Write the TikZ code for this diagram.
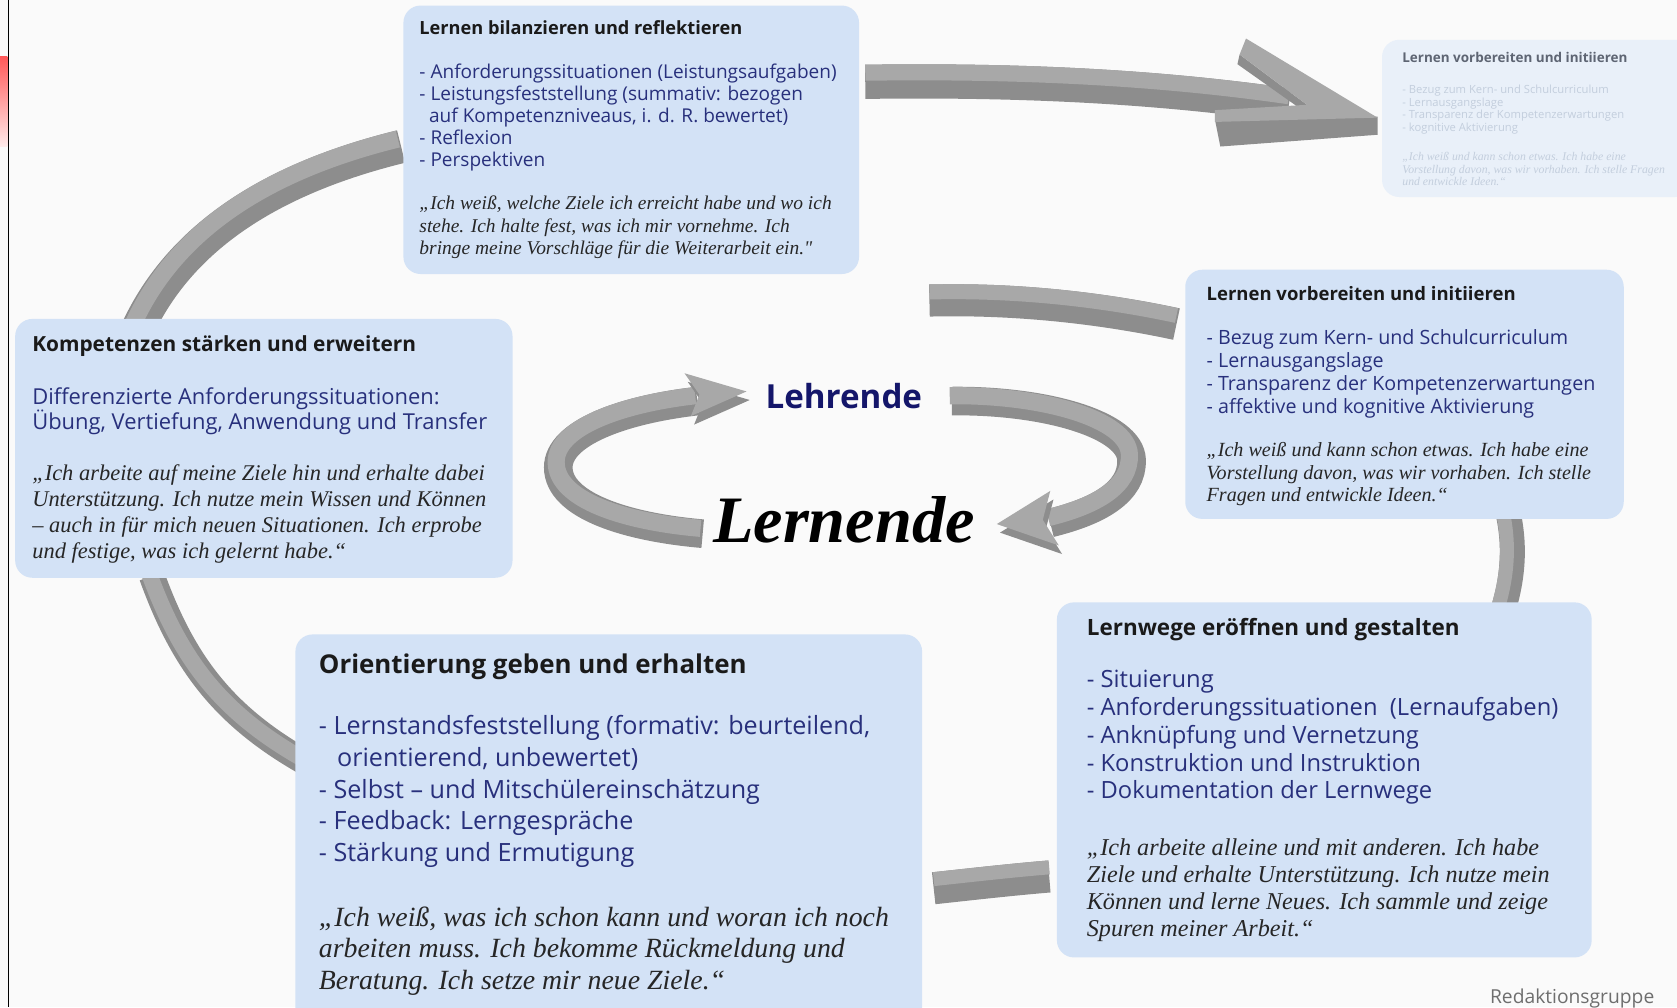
\documentclass[tikz,border=0pt]{standalone}
\usepackage{fontspec}
\setmainfont{Open Sans}
\newfontfamily\qfont{Liberation Serif}
\definecolor{bg}{HTML}{FAFAFA}
\definecolor{boxfill}{HTML}{D3E2F6}
\definecolor{fadefill}{HTML}{E9F0F9}
\definecolor{navy}{HTML}{28307C}
\definecolor{lehr}{HTML}{14166A}
\definecolor{qcol}{HTML}{262626}
\definecolor{ttl}{HTML}{1A1A1A}
\definecolor{riblight}{HTML}{A8A8A8}
\definecolor{ribdark}{HTML}{8D8D8D}
\definecolor{fadetitle}{HTML}{5E6573}
\definecolor{fadetext}{HTML}{C3CEDD}
\definecolor{credit}{HTML}{6E6E6E}
\newcommand{\fs}[2]{\fontsize{#1}{#2}\selectfont}
% ribbon: light face of width #1, side wall seen as shift (#2,#3)
\newcommand{\ribbonpath}[4]{%
  \draw[rd, line width={#1+veclen(#2,#3)}, transform canvas={shift={(#2/2,#3/2)}}] #4;
  \draw[rl, line width=#1] #4;}
\newcommand{\ribsolid}[3]{%
  \fill[ribdark, transform canvas={shift={(#1,#2)}}] #3;
  \fill[riblight] #3;}
\tikzset{
  card/.style={fill=boxfill, draw=none, rounded corners=16pt, inner sep=0pt},
  txt/.style={anchor=base west, inner sep=0pt, align=left},
  rl/.style={draw=riblight, line cap=butt},
  rd/.style={draw=ribdark, line cap=butt},
}
\begin{document}
\begin{tikzpicture}[x=1pt,y=-1pt]
\useasboundingbox (0,0) rectangle (1568,942);
\fill[bg] (0,0) rectangle (1568,942);
\shade[top color=red!65!white, bottom color=red!8!white] (0,53) rectangle (7,137);
\draw[line width=1.5pt] (8,0) -- (8,942);

% outer ribbons
\ribbonpath{16}{6}{14}{(125,302) .. controls (165,215) and (250,160) .. (372,130)}
\ribbonpath{15}{6}{7}{(139,535) .. controls (168,615) and (205,665) .. (282,709)}
\ribbonpath{14}{0}{16}{(869,273) .. controls (950,271) and (1030,280) .. (1100,295)}
\ribbonpath{15}{0}{17}{(809,68) .. controls (950,66) and (1080,72) .. (1205,90)}
\fill[ribdark] (1136,112) -- (1288,109) -- (1288,126) -- (1141,137) -- cycle;
\fill[ribdark] (1159,51) -- (1222,98) -- (1222,106) -- (1157,60) -- cycle;
\fill[riblight] (1165,36) -- (1288,110) -- (1136,114) -- (1136,103) -- (1222,98) -- (1159,51) -- cycle;
\ribbonpath{13}{10}{3}{(1405,478) .. controls (1411,505) and (1411,535) .. (1400,570)}
\ribbonpath{13}{0}{17}{(873,822) .. controls (910,818) and (945,814) .. (981,811)}

% central ribbons
\ribbonpath{16}{4}{10}{(655,494) .. controls (585,488) and (520,468) .. (520,432) .. controls (520,400) and (580,378) .. (650,370)}
\ribsolid{3}{8}{(640,349) -- (698,366) -- (646,389) -- (654,369) -- cycle}
\ribbonpath{16}{4}{10}{(888,370) .. controls (975,369) and (1055,392) .. (1056,425) .. controls (1057,455) and (1025,473) .. (980,484)}
\ribsolid{3}{8}{(982,459) -- (932,490) -- (990,510) -- (975,486) -- cycle}

% box 1
\node[card, anchor=north west, minimum width=426pt, minimum height=251pt] (b1) at (377,5) {};
\node[txt, text=ttl, font=\bfseries\fs{17}{20}] (b1t) at (392,32) {Lernen bilanzieren und reflektieren};
\node[txt, text=navy, font=\fs{17.8}{20.7}] (b1l) at (392,155.8) {- Anforderungssituationen (Leistungsaufgaben)\\- Leistungsfeststellung (summativ: bezogen\\\hspace*{9pt}auf Kompetenzniveaus, i. d. R. bewertet)\\- Reflexion\\- Perspektiven};
\node[txt, text=qcol, font=\qfont\itshape\fs{18.2}{21}] (b1q) at (392,238) {„Ich weiß, welche Ziele ich erreicht habe und wo ich\\stehe. Ich halte fest, was ich mir vornehme. Ich\\bringe meine Vorschläge für die Weiterarbeit ein."};

% box 2 (faded)
\node[card, fill=fadefill, anchor=north west, minimum width=290pt, minimum height=147pt] (b2) at (1292,37) {};
\node[txt, text=fadetitle, font=\bfseries\fs{12.6}{14}] (b2t) at (1311,58) {Lernen vorbereiten und initiieren};
\node[txt, text=fadetext, font=\fs{10.5}{11.7}] (b2l) at (1311,122.6) {- Bezug zum Kern- und Schulcurriculum\\- Lernausgangslage\\- Transparenz der Kompetenzerwartungen\\- kognitive Aktivierung};
\node[txt, text=fadetext, font=\qfont\itshape\fs{11}{11.7}] (b2q) at (1311,173.9) {„Ich weiß und kann schon etwas. Ich habe eine\\Vorstellung davon, was wir vorhaben. Ich stelle Fragen\\und entwickle Ideen.“};

% box 3
\node[card, anchor=north west, minimum width=410pt, minimum height=233pt] (b3) at (1108,252) {};
\node[txt, text=ttl, font=\bfseries\fs{17.3}{20}] (b3t) at (1128,281) {Lernen vorbereiten und initiieren};
\node[txt, text=navy, font=\fs{18.4}{21.6}] (b3l) at (1128,386.8) {- Bezug zum Kern- und Schulcurriculum\\- Lernausgangslage\\- Transparenz der Kompetenzerwartungen\\- affektive und kognitive Aktivierung};
\node[txt, text=qcol, font=\qfont\itshape\fs{18.8}{21}] (b3q) at (1128,469) {„Ich weiß und kann schon etwas. Ich habe eine\\Vorstellung davon, was wir vorhaben. Ich stelle\\Fragen und entwickle Ideen.“};

% box 4
\node[card, anchor=north west, minimum width=465pt, minimum height=242pt] (b4) at (14,298) {};
\node[txt, text=ttl, font=\bfseries\fs{19.5}{22}] (b4t) at (30,329) {Kompetenzen stärken und erweitern};
\node[txt, text=navy, font=\fs{20.5}{24}] (b4l) at (30,402) {Differenzierte Anforderungssituationen:\\Übung, Vertiefung, Anwendung und Transfer};
\node[txt, text=qcol, font=\qfont\itshape\fs{21}{24.3}] (b4q) at (30,521.9) {„Ich arbeite auf meine Ziele hin und erhalte dabei\\Unterstützung. Ich nutze mein Wissen und Können\\– auch in für mich neuen Situationen. Ich erprobe\\und festige, was ich gelernt habe.“};

% box 5
\node[card, anchor=north west, minimum width=586pt, minimum height=380pt] (b5) at (276,593) {};
\node[txt, text=ttl, font=\bfseries\fs{24.2}{27}] (b5t) at (298,630) {Orientierung geben und erhalten};
\node[txt, text=navy, font=\fs{23.5}{29.6}] (b5l) at (298,805.4) {- Lernstandsfeststellung (formativ: beurteilend,\\\hspace*{17pt}orientierend, unbewertet)\\- Selbst – und Mitschülereinschätzung\\- Feedback: Lerngespräche\\- Stärkung und Ermutigung};
\node[txt, text=qcol, font=\qfont\itshape\fs{26}{29.5}] (b5q) at (298,925) {„Ich weiß, was ich schon kann und woran ich noch\\arbeiten muss. Ich bekomme Rückmeldung und\\Beratung. Ich setze mir neue Ziele.“};

% box 6
\node[card, anchor=north west, minimum width=500pt, minimum height=332pt] (b6) at (988,563) {};
\node[txt, text=ttl, font=\bfseries\fs{21}{24}] (b6t) at (1016,594) {Lernwege eröffnen und gestalten};
\node[txt, text=navy, font=\fs{22.2}{26}] (b6l) at (1016,747) {- Situierung\\- Anforderungssituationen\ \ (Lernaufgaben)\\- Anknüpfung und Vernetzung\\- Konstruktion und Instruktion\\- Dokumentation der Lernwege};
\node[txt, text=qcol, font=\qfont\itshape\fs{22.6}{25.3}] (b6q) at (1016,875.9) {„Ich arbeite alleine und mit anderen. Ich habe\\Ziele und erhalte Unterstützung. Ich nutze mein\\Können und lerne Neues. Ich sammle und zeige\\Spuren meiner Arbeit.“};

% centre
\node[inner sep=0pt, text=lehr, font=\bfseries\fs{31}{31}] (lehr) at (789,370) {Lehrende};
\node[inner sep=0pt, text=black, font=\qfont\bfseries\itshape\fs{62}{62}] (lern) at (789,486) {Lernende};

\node[txt, text=credit, font=\fs{18}{20}] (credit) at (1393,938) {Redaktionsgruppe};
\end{tikzpicture}
\end{document}
